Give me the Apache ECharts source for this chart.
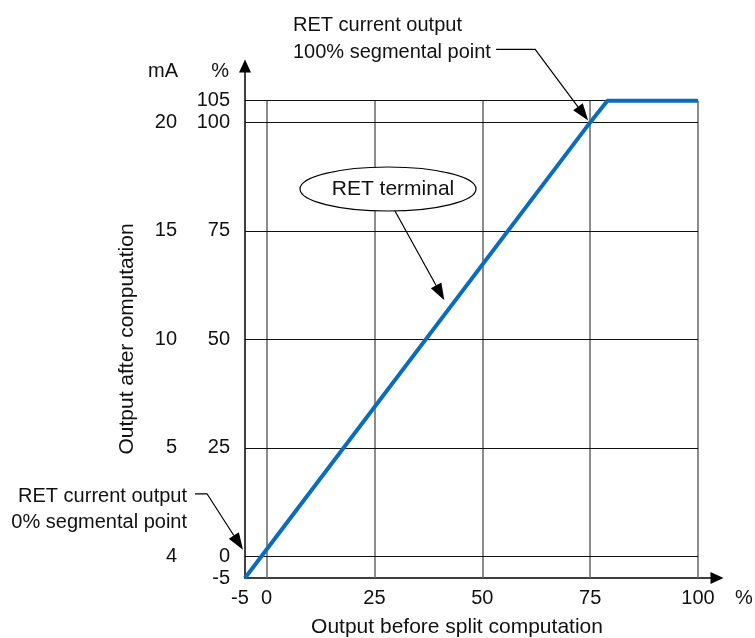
<!DOCTYPE html>
<html><head><meta charset="utf-8">
<script src="https://cdn.jsdelivr.net/npm/echarts@6/dist/echarts.min.js"></script>
<style>html,body{margin:0;padding:0;background:#fff}#c{width:755px;height:638px}</style>
</head><body><div id="c"></div>
<script>
// ---- data ----
const lineX = [-5, 75, 79, 100];
const lineY = [-5, 100, 105, 105];
const xTicks = [-5, 0, 25, 50, 75, 100];
const yTicks = [-5, 0, 25, 50, 75, 100, 105];
const mATicks = [0, 25, 50, 75, 100];
const mALabels = ['4', '5', '10', '15', '20'];
const xGrid = [0, 25, 50, 75, 100];
const yGrid = [0, 25, 50, 75, 100, 105];
const X_MIN = -5, X_MAX = 104.4, Y_MIN = -5, Y_MAX = 113;
const GRID_X_END = 100, GRID_Y_END = 105;

const FONT = '"Liberation Sans", Arial, Helvetica, sans-serif';
const TXT = '#111';
const chart = echarts.init(document.getElementById('c'), null, {renderer: 'canvas'});

const gridMarks = [];
xGrid.forEach(v => gridMarks.push([
  {coord: [v, Y_MIN], lineStyle: {color: '#707070', width: 1.6, type: 'solid'}},
  {coord: [v, GRID_Y_END]}
]));
yGrid.forEach(v => gridMarks.push([
  {coord: [X_MIN, v], lineStyle: {color: '#111', width: 1.1, type: 'solid'}},
  {coord: [GRID_X_END, v]}
]));

chart.setOption({
  animation: false,
  backgroundColor: '#fff',
  grid: {left: 245, right: 38, top: 66, bottom: 60, containLabel: false},
  xAxis: {
    type: 'value', min: X_MIN, max: X_MAX,
    splitLine: {show: false}, axisTick: {show: false},
    axisLine: {show: true, onZero: false, lineStyle: {color: '#000', width: 1.5},
      symbol: ['none', 'triangle'], symbolSize: [12, 13]},
    axisLabel: {
      customValues: xTicks, margin: 10, color: TXT, fontSize: 20, fontFamily: FONT,
      formatter: v => v === -5 ? '{l|-5}' : String(v),
      rich: {l: {padding: [0, 10, 0, 0], fontSize: 20, fontFamily: FONT, color: TXT}}
    }
  },
  yAxis: [{
    type: 'value', min: Y_MIN, max: Y_MAX, position: 'left',
    splitLine: {show: false}, axisTick: {show: false},
    axisLine: {show: true, onZero: false, lineStyle: {color: '#000', width: 1.5},
      symbol: ['none', 'triangle'], symbolSize: [12, 13]},
    axisLabel: {customValues: yTicks, margin: 15, color: TXT, fontSize: 20, fontFamily: FONT}
  }, {
    type: 'value', min: Y_MIN, max: Y_MAX, position: 'left', offset: 53,
    splitLine: {show: false}, axisTick: {show: false}, axisLine: {show: false},
    axisLabel: {customValues: mATicks, margin: 15, color: TXT, fontSize: 20, fontFamily: FONT,
      formatter: v => mALabels[mATicks.indexOf(v)]}
  }],
  series: [{
    type: 'line', data: [], silent: true, z: 1,
    markLine: {silent: true, symbol: ['none', 'none'], label: {show: false}, animation: false, data: gridMarks}
  }, {
    type: 'line', silent: true, z: 5, showSymbol: false,
    data: lineX.map((x, i) => [x, lineY[i]]),
    lineStyle: {color: '#0a6cbd', width: 4}
  }]
});

function P(x, y) { return chart.convertToPixel({gridIndex: 0}, [x, y]); }
function arrow(pts, len, wid) {
  const n = pts.length, tip = pts[n - 1], prev = pts[n - 2];
  const dx = tip[0] - prev[0], dy = tip[1] - prev[1], L = Math.hypot(dx, dy);
  const ux = dx / L, uy = dy / L;
  const bx = tip[0] - ux * len, by = tip[1] - uy * len;
  const linePts = pts.slice(0, n - 1).concat([[bx, by]]);
  return [
    {type: 'polyline', shape: {points: linePts}, style: {stroke: '#000', lineWidth: 1.2, fill: null}, z: 20},
    {type: 'polygon', shape: {points: [tip, [bx - uy * wid / 2, by + ux * wid / 2], [bx + uy * wid / 2, by - ux * wid / 2]]},
      style: {fill: '#000'}, z: 20}
  ];
}
function text(t, x, y, align, extra) {
  return Object.assign({type: 'text', x: x, y: y, z: 30,
    style: Object.assign({text: t, fill: TXT, fontSize: 20, fontFamily: FONT, align: align, verticalAlign: 'middle'}, extra || {})});
}

const t100 = P(75, 100); t100[0] -= 2; t100[1] -= 2;
const t0 = P(-5, 1.5); t0[0] -= 2;
const tEl = P(41.2, 59);
const origin = P(-5, -5);
const axTop = P(-5, Y_MAX);
const axRight = P(X_MAX, -5);

const g = [];
// axis header labels
g.push(text('mA', origin[0] - 67, axTop[1] + 5, 'right'));
g.push(text('%', origin[0] - 16, axTop[1] + 5, 'right'));
g.push(text('%', axRight[0] + 18, origin[1] + 20, 'left'));
// axis titles
g.push(text('Output before split computation', 457, 627, 'center', {fontSize: 21}));
g.push(text('Output after computation', 127, 339, 'center', {fontSize: 21}));
g[g.length - 1].rotation = Math.PI / 2;
// 100% annotation
g.push(text('RET current output\n100% segmental point', 293, 39, 'left', {lineHeight: 27}));
g.push(...arrow([[t100[0] - 92, t100[1] - 71], [t100[0] - 53, t100[1] - 71], t100], 17, 12));
// 0% annotation
g.push(text('RET current output\n0% segmental point', 187, 509, 'right', {lineHeight: 26}));
g.push(...arrow([[t0[0] - 48, t0[1] - 56], [t0[0] - 36, t0[1] - 56], t0], 17, 12));
// ellipse annotation
g.push({type: 'ellipse', shape: {cx: 388, cy: 189, rx: 88, ry: 22}, style: {fill: '#fff', stroke: '#000', lineWidth: 1.2}, z: 25});
g.push(text('RET terminal', 393, 189, 'center', {fontSize: 21}));
g.push(...arrow([[395, 211], tEl], 17, 12));

chart.setOption({graphic: g});
</script>
</body></html>
